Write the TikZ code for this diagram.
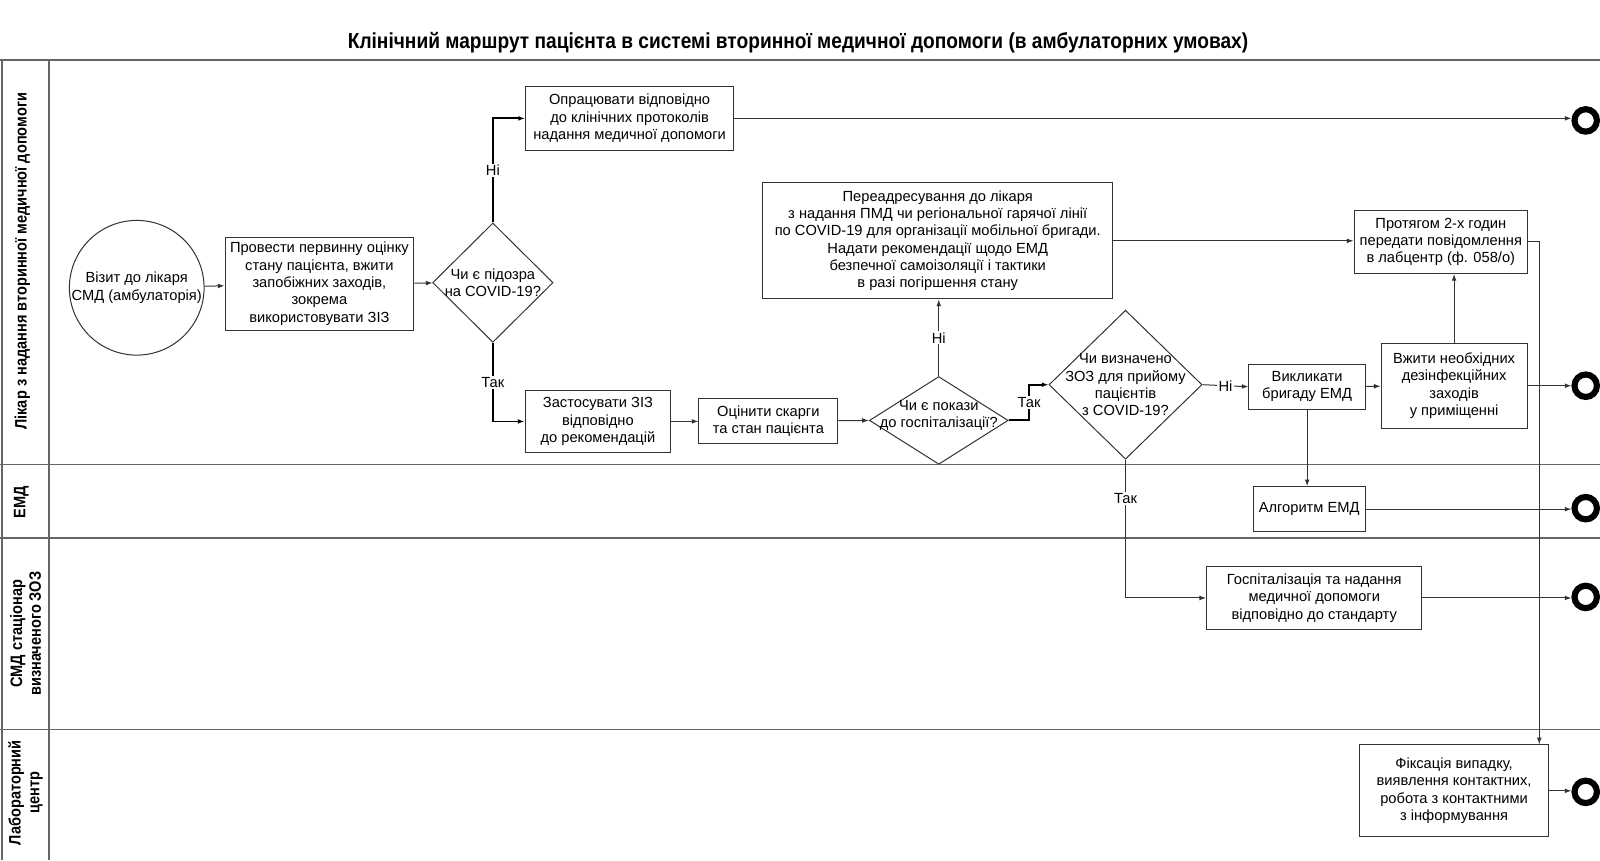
\documentclass[tikz,border=0pt]{standalone}
\usepackage{fontspec}
\setmainfont{Liberation Sans}
\newfontfamily\narrowfont[FakeStretch=0.88]{Liberation Sans}
\usetikzlibrary{shapes.geometric,arrows.meta,calc}

\newcommand{\pxu}{0.765pt}

\tikzset{
  txt/.style={font=\fontsize{11}{13}\selectfont},
  box/.style={txt, draw=black!80, line width=0.75pt, align=center, inner sep=1pt},
  boxsize/.style 2 args={minimum width=#1*\pxu, minimum height=#2*\pxu},
  decision/.style={diamond, draw=black!80, line width=0.75pt, inner sep=0pt, aspect=1},
  qtext/.style={txt, align=center, inner sep=0pt},
  flow/.style={draw=black!80, line width=0.75pt, -{Latex[length=5pt,width=3.6pt]}},
  flowbold/.style={draw=black, line width=1.4pt, -{Latex[length=5pt,width=3.6pt]}},
  lbl/.style={txt, fill=white, inner sep=1pt},
  endpt/.style={circle, draw=black, line width=4.6pt, minimum size=22*\pxu, inner sep=0pt},
  lane/.style={draw=black!60, line width=1.1pt},
  lanetext/.style={font=\narrowfont\bfseries\fontsize{12.4}{14}\selectfont, rotate=90, align=center},
  titletext/.style={font=\narrowfont\bfseries\fontsize{16.3}{19}\selectfont}
}

\begin{document}
\begin{tikzpicture}[x=\pxu, y=-\pxu]
  \useasboundingbox (0,0) rectangle (1568,843);

  % title
  \node[titletext] (title) at (782,42) {Клінічний маршрут пацієнта в системі вторинної медичної допомоги (в амбулаторних умовах)};

  % swimlanes
  \draw[lane] (0,59) -- (1568,59) (0,455) -- (1568,455) (0,527) -- (1568,527) (0,715) -- (1568,715);
  \draw[lane] (2,59) -- (2,843) (48,59) -- (48,843);

  \node[lanetext] (lane1) at (22,256) {Лікар з надання вторинної медичної допомоги};
  \node[lanetext] (lane2) at (21,492) {ЕМД};
  \node[lanetext] (lane3) at (25,621) {СМД стаціонар\\визначеного ЗОЗ};
  \node[lanetext] (lane4) at (25,777) {Лабораторний\\центр};

  % lane 1
  \node[box, circle, minimum size=132*\pxu, inner sep=0pt] (visit) at (134,282) {Візит до лікаря\\СМД (амбулаторія)};
  \node[box, boxsize={185}{91}] (assess) at (313,278) {Провести первинну оцінку\\стану пацієнта, вжити\\запобіжних заходів,\\зокрема\\використовувати ЗІЗ};
  \node[decision, minimum width=118*\pxu, minimum height=117*\pxu] (susp) at (483,277) {};
  \node[qtext] (susptext) at (susp) {Чи є підозра\\на COVID-19?};
  \node[box, boxsize={204}{62}] (proto) at (617,116) {Опрацювати відповідно\\до клінічних протоколів\\надання медичної допомоги};
  \node[box, boxsize={143}{60}] (ppe) at (586,413) {Застосувати ЗІЗ\\відповідно\\до рекомендацій};
  \node[box, boxsize={136}{44}] (eval) at (753,413) {Оцінити скарги\\та стан пацієнта};
  \node[decision, minimum width=136*\pxu, minimum height=86*\pxu] (hospq) at (920,412) {};
  \node[qtext] (hospqtext) at (920,407) {Чи є покази\\до госпіталізації?};
  \node[box, boxsize={343}{114}] (redirect) at (919,236) {Переадресування до лікаря\\з надання ПМД чи регіональної гарячої лінії\\по COVID-19 для організації мобільної бригади.\\Надати рекомендації щодо ЕМД\\безпечної самоізоляції і тактики\\в разі погіршення стану};
  \node[decision, minimum width=150*\pxu, minimum height=146*\pxu] (zoz) at (1103,377) {};
  \node[qtext] (zoztext) at (zoz) {Чи визначено\\ЗОЗ для прийому\\пацієнтів\\з COVID-19?};
  \node[box, boxsize={114}{44}] (callemd) at (1281,379) {Викликати\\бригаду ЕМД};
  \node[box, boxsize={143}{83}] (disinf) at (1425,378) {Вжити необхідних\\дезінфекційних\\заходів\\у приміщенні};
  \node[box, boxsize={170}{62}] (notify) at (1412,237) {Протягом 2-х годин\\передати повідомлення\\в лабцентр (ф. 058/о)};

  % lane 2
  \node[box, boxsize={110}{44}] (algo) at (1283,499) {Алгоритм ЕМД};

  % lane 3
  \node[box, boxsize={211}{62}] (hosp) at (1288,586) {Госпіталізація та надання\\медичної допомоги\\відповідно до стандарту};

  % lane 4
  \node[box, boxsize={186}{90}] (fix) at (1425,775) {Фіксація випадку,\\виявлення контактних,\\робота з контактними\\з інформування};

  % end events
  \node[endpt] (end1) at (1554,118) {};
  \node[endpt] (end2) at (1554,378) {};
  \node[endpt] (end3) at (1554,498) {};
  \node[endpt] (end4) at (1554,585) {};
  \node[endpt] (end5) at (1554,776) {};

  \coordinate (k1) at ($(hospq.east)+(20,0)$);
  \coordinate (k2) at ($(notify.east)+(11,0)$);

  % connectors
  \draw[flow] (visit) -- (assess);
  \draw[flow] (assess) -- (susp);
  \draw[flowbold] (susp.north) |- node[lbl, pos=0.25] {Ні} (proto.west);
  \draw[flowbold] (susp.south) |- node[lbl, pos=0.25] {Так} (ppe.west);
  \draw[flow] (ppe) -- (eval);
  \draw[flow] (eval) -- (hospq.west);
  \draw[flow] (hospq.north) -- node[lbl] {Ні} (redirect.south -| hospq.north);
  \draw[flowbold] (hospq.east) -- (k1) |- node[lbl, pos=0.25] {Так} (zoz.west);
  \draw[flow] (zoz.east) -- node[lbl] {Ні} (callemd.west);
  \draw[flow] (callemd) -- (disinf);
  \draw[flow] (disinf.north) -- (disinf.north |- notify.south);
  \draw[flow] (redirect.east) -- (redirect.east -| notify.west);
  \draw[flow] (notify.east) -- (k2) -- (k2 |- fix.north);
  \draw[flow] (callemd.south) -- (callemd.south |- algo.north);
  \draw[flow] (zoz.south) |- node[lbl, pos=0.14] {Так} (hosp.west);
  \draw[flow] (proto.east) -- (proto.east -| end1.west);
  \draw[flow] (disinf.east) -- (end2);
  \draw[flow] (algo.east) -- (algo.east -| end3.west);
  \draw[flow] (hosp.east) -- (hosp.east -| end4.west);
  \draw[flow] (fix.east) -- (fix.east -| end5.west);
\end{tikzpicture}
\end{document}
